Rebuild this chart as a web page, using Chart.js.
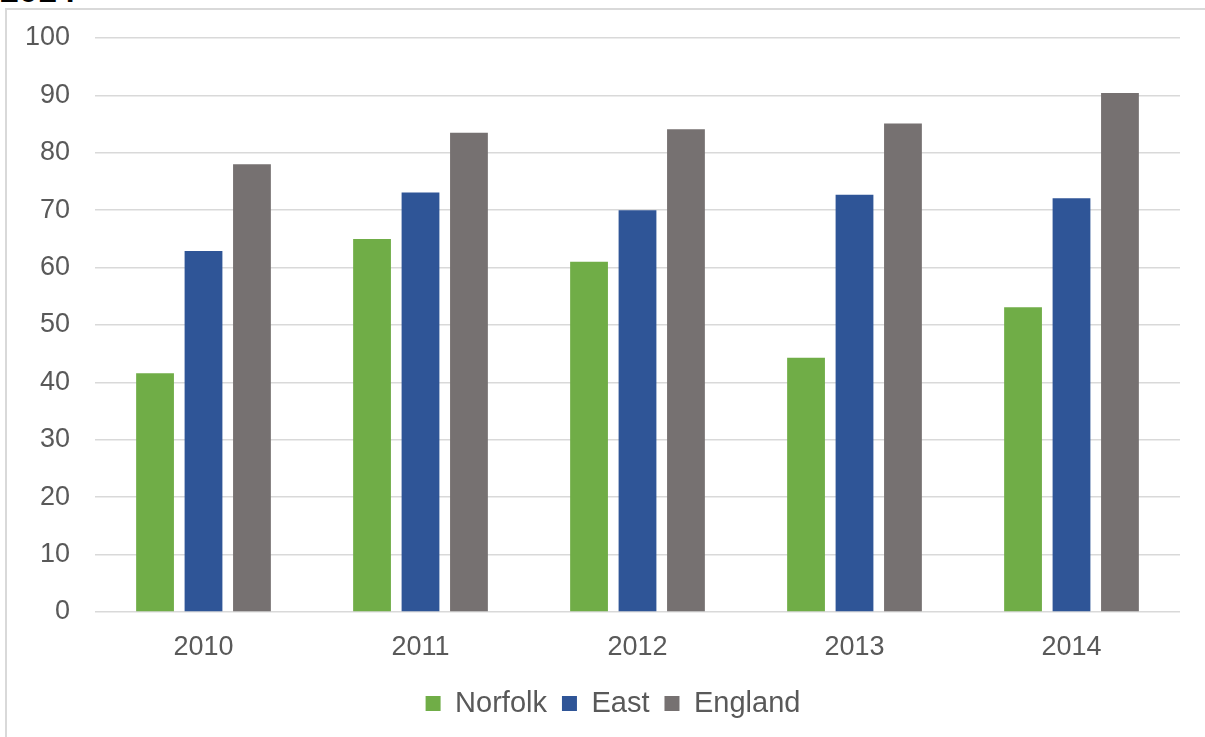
<!DOCTYPE html>
<html>
<head>
<meta charset="utf-8">
<script src="https://cdn.jsdelivr.net/npm/chart.js@4"></script>
<style>
  html, body { margin: 0; padding: 0; background: #fff; overflow: hidden; }
  #title {
    position: absolute; left: 0; top: -27px;
    font: bold 34px "Liberation Sans", Arial, sans-serif; line-height: 34px; color: #000;
  }
  #frame {
    position: absolute; left: 5px; top: 8px; width: 1300px; height: 800px;
    border: 2px solid #d9d9d9;
  }
  #wrap { position: absolute; left: 0; top: 0; width: 1205px; height: 737px; }
</style>
</head>
<body>
<div id="title">2014</div>
<div id="frame"></div>
<div id="wrap"><canvas id="chart"></canvas></div>
<script>
// Bar chart, 2010-2014, Norfolk vs East vs England
const years   = ['2010', '2011', '2012', '2013', '2014'];
const norfolk = [41.6, 65.0, 61.0, 44.3, 53.1];
const east    = [62.9, 73.1, 70.0, 72.7, 72.1];
const england = [78.0, 83.5, 84.1, 85.1, 90.4];
const yTicks  = [0, 10, 20, 30, 40, 50, 60, 70, 80, 90, 100];

const font = '"Liberation Sans", Arial, sans-serif';
const textColor = '#595959';
const gridColor = '#d9d9d9';

function bar(label, data, color) {
  return {
    label, data,
    backgroundColor: color,
    borderWidth: 0,
    categoryPercentage: 0.67,
    barPercentage: 0.78
  };
}

// legend is centred on the whole frame, not the plot: nudge it right
const legendShift = {
  id: 'legendShift',
  afterLayout(chart) {
    chart.legend.left += 23;
    chart.legend.right += 23;
  }
};

new Chart(document.getElementById('chart'), {
  type: 'bar',
  data: {
    labels: years,
    datasets: [
      bar('Norfolk', norfolk, '#70ad47'),
      bar('East',    east,    '#2f5597'),
      bar('England', england, '#767171')
    ]
  },
  plugins: [legendShift],
  options: {
    responsive: true,
    maintainAspectRatio: false,
    animation: false,
    layout: { padding: { top: 38, right: 25, left: 0, bottom: 9 } },
    plugins: {
      tooltip: { enabled: false },
      legend: {
        position: 'bottom',
        labels: {
          color: textColor,
          font: { family: font, size: 29 },
          boxWidth: 15,
          boxHeight: 15,
          padding: 15
        }
      }
    },
    scales: {
      x: {
        grid: { display: false, drawTicks: false },
        border: { display: false },
        ticks: { color: textColor, font: { family: font, size: 27 }, padding: 19 },
        afterFit: s => { s.height = 62; }
      },
      y: {
        min: 0, max: 100,
        afterBuildTicks: s => { s.ticks = yTicks.map(v => ({ value: v })); },
        afterFit: s => {
          s.width = 95;
          s.paddingTop = 0;
          s.paddingBottom = 0;
        },
        grid: { color: gridColor, lineWidth: 1.5, drawTicks: false },
        border: { display: false },
        ticks: { color: textColor, font: { family: font, size: 27 }, padding: 25 }
      }
    }
  }
});
</script>
</body>
</html>
